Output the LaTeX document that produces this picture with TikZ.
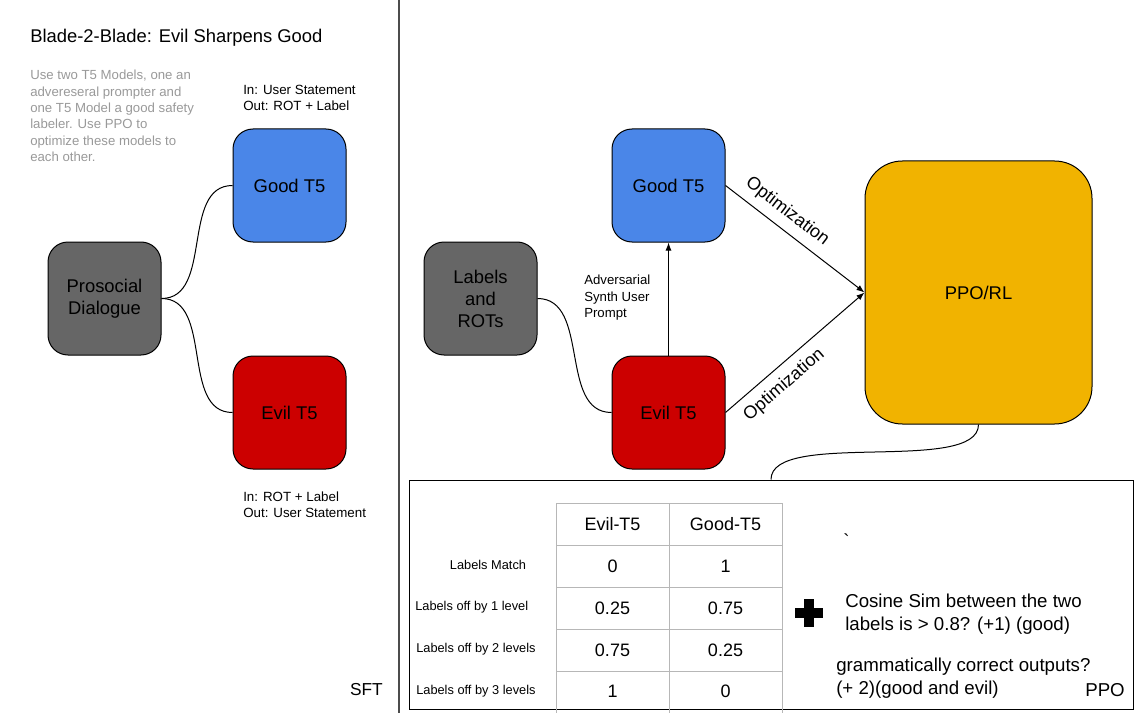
\documentclass[tikz,border=0pt]{standalone}
\usepackage{fontspec}
\setmainfont{Liberation Sans}
\usetikzlibrary{arrows.meta}

\definecolor{goodblue}{HTML}{4A86E8}
\definecolor{evilred}{HTML}{CC0000}
\definecolor{datagray}{HTML}{666666}
\definecolor{ppoyellow}{HTML}{F1B300}
\definecolor{notegray}{HTML}{999999}
\definecolor{tablegray}{HTML}{B7B7B7}

\tikzset{
	model/.style={draw, line width=0.75pt, rounded corners=15pt, minimum width=84.75pt, minimum height=84.75pt, align=center, font=\fontsize{13.8}{16.5}\selectfont},
	note/.style={align=left, inner sep=0pt, font=\fontsize{10}{12}\selectfont},
	cell/.style={inner sep=0pt, font=\fontsize{13.5}{16}\selectfont},
	rowlabel/.style={inner sep=0pt, font=\fontsize{9.6}{11}\selectfont},
	reward/.style={align=left, inner sep=0pt, font=\fontsize{14}{17.25}\selectfont},
	gridline/.style={draw=tablegray, line width=0.75pt},
	link/.style={line width=0.75pt},
	flow/.style={link, -{Latex[length=6pt,width=4.5pt]}},
}

\begin{document}
\begin{tikzpicture}[x=0.75pt, y=-0.75pt]
	\useasboundingbox (0,0) rectangle (1142,713);

	% SFT side
	\begin{scope}
	\node[anchor=west, inner sep=0pt, font=\fontsize{13.8}{16}\selectfont] (title) at (30,38) {Blade-2-Blade: Evil Sharpens Good};
	\node[note, text=notegray, font=\fontsize{9.9}{12.3}\selectfont, anchor=west] (desc) at (30,116) {Use two T5 Models, one an\\advereseral prompter and\\one T5 Model a good safety\\labeler. Use PPO to\\optimize these models to\\each other.};
	\node[note, anchor=west] (goodio) at (243,98) {In: User Statement\\Out: ROT + Label};
	\node[note, anchor=west] (evilio) at (243,505) {In: ROT + Label\\Out: User Statement};

	\node[model, fill=datagray] (prosocial) at (104.5,298.5) {Prosocial\\Dialogue};
	\node[model, fill=goodblue] (good) at (289.5,185.5) {Good T5};
	\node[model, fill=evilred] (evil) at (289.5,412.5) {Evil T5};

	\draw[link] (prosocial.east) to[out=0, in=180] (good.west);
	\draw[link] (prosocial.east) to[out=0, in=180] (evil.west);

	\node[anchor=east, inner sep=0pt, font=\fontsize{13}{15}\selectfont] (sft) at (383,690) {SFT};
	\end{scope}

	\draw[black!70, line width=1pt] (399,0) -- (399,713);

	% PPO side
	\begin{scope}
	\node[model, fill=datagray] (labels) at (480.5,298.5) {Labels\\and\\ROTs};
	\node[model, fill=goodblue] (goodR) at (668.5,185.5) {Good T5};
	\node[model, fill=evilred] (evilR) at (668.5,412.5) {Evil T5};
	\node[model, fill=ppoyellow, rounded corners=28pt, minimum width=170.25pt, minimum height=197.25pt] (ppo) at (978.5,292.5) {PPO/RL};

	\draw[link] (labels.east) to[out=0, in=180] (evilR.west);
	\draw[flow] (evilR.north) -- (goodR.south);
	\node[note, anchor=west, font=\fontsize{9.9}{12.4}\selectfont] (prompt) at (584,298) {Adversarial\\Synth User\\Prompt};

	\draw[flow] (goodR.east) -- (ppo.west) node[pos=0.37, sloped, above=6pt, inner sep=0pt, font=\fontsize{13.5}{16}\selectfont] (optgood) {Optimization};
	\draw[flow] (evilR.east) -- (ppo.west) node[pos=0.34, sloped, below=6.5pt, inner sep=0pt, font=\fontsize{13.5}{16}\selectfont] (optevil) {Optimization};
	\end{scope}

	% reward table
	\node[draw, line width=0.75pt, minimum width=543pt, minimum height=171.75pt, inner sep=0pt] (rewardbox) at (771,594.5) {};
	\draw[link] (ppo.south) to[out=-90, in=90, looseness=0.6] (rewardbox.north);

	\draw[gridline] (556,503) -- (782,503);
	\draw[gridline] (556,545) -- (782,545);
	\draw[gridline] (556,587) -- (782,587);
	\draw[gridline] (556,629) -- (782,629);
	\draw[gridline] (556,671) -- (782,671);
	\draw[gridline] (556,503) -- (556,713);
	\draw[gridline] (669,503) -- (669,713);
	\draw[gridline] (782,503) -- (782,713);

	\node[cell] (hevil) at (612.5,524) {Evil-T5};
	\node[cell] (hgood) at (725.5,524) {Good-T5};

	\node[rowlabel] (rmatch) at (488,565) {Labels Match};
	\node[rowlabel, anchor=west] (roff1) at (415,607) {Labels off by 1 level};
	\node[rowlabel, anchor=west] (roff2) at (416,649) {Labels off by 2 levels};
	\node[rowlabel, anchor=west] (roff3) at (416,691) {Labels off by 3 levels};

	\node[cell] (e0) at (612.5,566) {0};
	\node[cell] (g0) at (725.5,566) {1};
	\node[cell] (e1) at (612.5,608) {0.25};
	\node[cell] (g1) at (725.5,608) {0.75};
	\node[cell] (e2) at (612.5,650) {0.75};
	\node[cell] (g2) at (725.5,650) {0.25};
	\node[cell] (e3) at (612.5,691) {1};
	\node[cell] (g3) at (725.5,691) {0};

	% plus sign
	\fill (795,608) rectangle (823,618);
	\fill (804,599) rectangle (814,627);

	\node[reward, anchor=west] (tick) at (843,541) {\textasciigrave};
	\node[reward, anchor=west] (cosine) at (845,614.5) {Cosine Sim between the two\\labels is > 0.8? (+1) (good)};
	\node[reward, anchor=west] (grammar) at (836,678.5) {grammatically correct outputs?\\(+ 2)(good and evil)};
	\node[reward, anchor=east] (ppolabel) at (1125,690) {PPO};
\end{tikzpicture}
\end{document}
